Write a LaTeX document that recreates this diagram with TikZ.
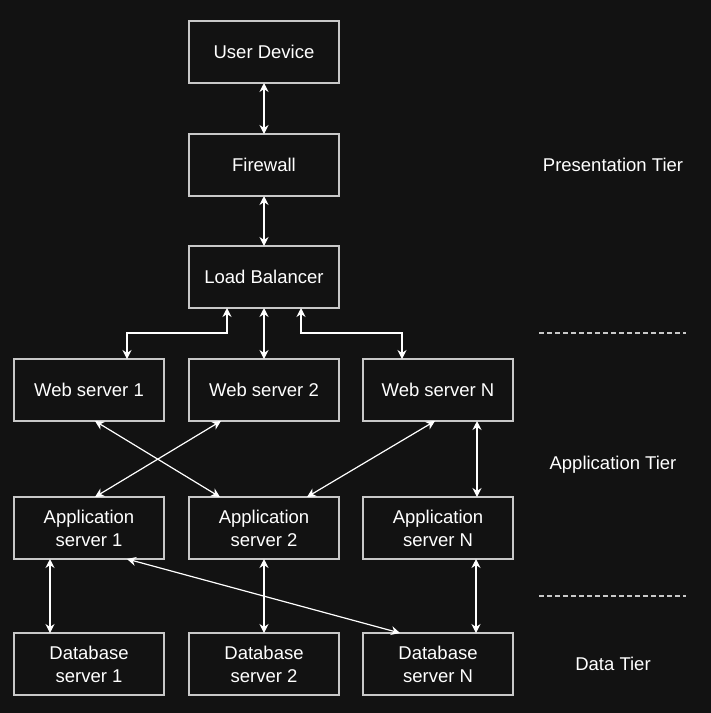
\documentclass[tikz,border=0pt]{standalone}
\usepackage{fontspec}
\setmainfont{Liberation Sans}
\usetikzlibrary{positioning, arrows.meta}
\definecolor{bgdark}{RGB}{18,18,18}
\definecolor{boxline}{RGB}{200,200,200}

\begin{document}
\begin{tikzpicture}[x = 1pt, y = 1pt,
        > = {Stealth[length = 9pt, width = 9pt]}, % arrow head style
        node distance = 51pt and 24pt, % distance between boxes
        line width = 1.3pt
    ]

    \tikzset{box/.style = {draw = boxline, rectangle, minimum width = 150pt,
            minimum height = 62pt, inner sep = 0pt, outer sep = 0pt,
            text = white, align = center,
            font = \fontsize{18.5}{23}\selectfont},
        tier/.style = {text = white, font = \fontsize{18.5}{23}\selectfont},
        link/.style = {<->, white, line width = 1.2pt},
        sep/.style = {boxline, line width = 1.2pt, dash pattern = on 5pt off 3pt}}

    \fill[bgdark] (0,0) rectangle (711,-713);
    \useasboundingbox (0,0) rectangle (711,-713);

    % presentation tier
    \node[box] (ud) at (264,-52) {User Device};
    \node[box] (fw) [below = of ud] {Firewall};
    \node[box] (lb) [below = 50pt of fw] {Load Balancer};

    % application tier
    \node[box] (w2) [below = of lb] {Web server 2};
    \node[box] (w1) [left = 25pt of w2] {Web server 1};
    \node[box] (wn) [right = of w2] {Web server N};
    \node[box] (a2) [below = 76pt of w2] {Application\\server 2};
    \node[box] (a1) [left = 25pt of a2] {Application\\server 1};
    \node[box] (an) [right = of a2] {Application\\server N};

    % data tier
    \node[box] (d2) [below = 74pt of a2] {Database\\server 2};
    \node[box] (d1) [left = 25pt of d2] {Database\\server 1};
    \node[box] (dn) [right = of d2] {Database\\server N};

    % tier labels and separators
    \node[tier] (tp) at (613,-165) {Presentation Tier};
    \node[tier] (ta) at (613,-465) {Application Tier};
    \node[tier] (td) at (613,-664) {Data Tier};
    \coordinate (s1a) at (539,-333); \coordinate (s1b) at (686,-333);
    \coordinate (s2a) at (539,-596); \coordinate (s2b) at (686,-596);
    \draw[sep] (s1a) -- (s1b);
    \draw[sep] (s2a) -- (s2b);

    \draw[link] (ud) -- (fw);
    \draw[link] (fw) -- (lb);
    \draw[link] (lb) -- (w2);
    \draw[link] ([xshift = -37pt]lb.south) -- ++(0,-25pt) -| ([xshift = 38pt]w1.north);
    \draw[link] ([xshift = 37pt]lb.south) -- ++(0,-25pt) -| ([xshift = -36pt]wn.north);

    \draw[link] ([xshift = 6pt]w1.south) -- ([xshift = -44pt]a2.north);
    \draw[link] ([xshift = -43pt]w2.south) -- ([xshift = 6pt]a1.north);
    \draw[link] ([xshift = -3pt]wn.south) -- ([xshift = 43pt]a2.north);
    \draw[link] ([xshift = 39pt]wn.south) -- ([xshift = 39pt]an.north);

    \draw[link] ([xshift = -39pt]a1.south) -- ([xshift = -39pt]d1.north);
    \draw[link] (a2) -- (d2);
    \draw[link] ([xshift = 38pt]an.south) -- ([xshift = 38pt]dn.north);
    \draw[link] ([xshift = 38pt]a1.south) -- ([xshift = -38pt]dn.north);
\end{tikzpicture}
\end{document}
